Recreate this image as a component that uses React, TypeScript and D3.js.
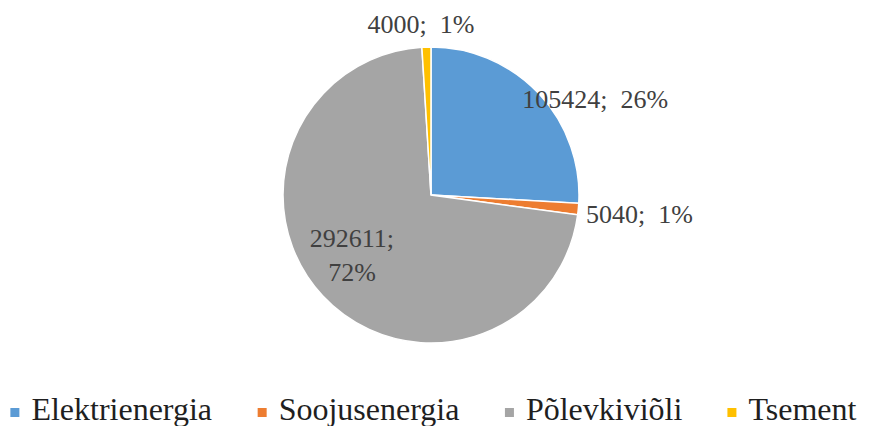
import React from 'react';
import * as d3 from 'd3';

const categories = ['Elektrienergia', 'Soojusenergia', 'Põlevkiviõli', 'Tsement'];
const values = [105424, 5040, 292611, 4000];
const percents = ['26%', '1%', '72%', '1%'];
const colors = ['#5B9BD5', '#ED7D31', '#A5A5A5', '#FFC000'];

// label placement: radius factor, anchor, nudge, split onto two lines
const labelPlace = [
  { k: 0.95, anchor: 'start', dx: -11, dy: 10, split: false },
  { k: 1.1, anchor: 'start', dx: -7, dy: 13, split: false },
  { k: 0.6, anchor: 'middle', dx: -14, dy: -8, split: true },
  { k: 1.1, anchor: 'middle', dx: -5, dy: 1, split: false },
];

const serif = "'Liberation Serif'";

const width = 869;
const height = 426;
const cx = 431;
const cy = 195;
const radius = 148;

// Times-metric widths (em) for legend layout
const legendEm = [5.665, 5.665, 4.89, 3.444];

const App = () => {
  const data = categories.map((c, i) => ({ name: c, value: values[i], pct: percents[i], i }));
  const arcs = d3.pie<any>().sort(null).value((d) => d.value)(data);
  const arc = d3.arc<any>().innerRadius(0).outerRadius(radius);

  const legendFont = 32;
  const textW = legendEm.map((e) => e * legendFont);
  const swatchGap = 21;
  const gap = 45;
  const total = d3.sum(textW) + swatchGap * categories.length + gap * (categories.length - 1);
  const starts: number[] = [];
  let x0 = (width - total) / 2;
  textW.forEach((w) => {
    starts.push(x0);
    x0 += swatchGap + w + gap;
  });

  return (
    <svg width={width} height={height} style={{ position: 'absolute', left: 0, top: 0, background: '#fff' }}>
      <g transform={`translate(${cx},${cy})`}>
        {arcs.map((a) => (
          <path key={a.data.name} d={arc(a) || ''} fill={colors[a.data.i]} stroke="#fff" strokeWidth={1.5} />
        ))}
      </g>
      {arcs.map((a) => {
        const p = labelPlace[a.data.i];
        const mid = (a.startAngle + a.endAngle) / 2;
        const r = radius * p.k;
        const x = cx + Math.sin(mid) * r + p.dx;
        const y = cy - Math.cos(mid) * r + p.dy;
        return (
          <text
            key={a.data.name}
            x={x}
            y={y}
            textAnchor={p.anchor}
            fill="#404040"
            fontFamily="Liberation Serif"
            style={{ fontFamily: serif, fontSize: 26, whiteSpace: 'pre' }}
          >
            {p.split ? (
              <>
                <tspan x={x} y={y}>{`${a.data.value};`}</tspan>
                <tspan x={x} y={y + 34}>{a.data.pct}</tspan>
              </>
            ) : (
              `${a.data.value};  ${a.data.pct}`
            )}
          </text>
        );
      })}
      {categories.map((c, i) => (
        <g key={c}>
          <rect x={starts[i]} y={height - 18} width={9} height={9} fill={colors[i]} />
          <text
            x={starts[i] + swatchGap}
            y={height - 6}
            fill="#1f1f1f"
            fontFamily="Liberation Serif"
            style={{ fontFamily: serif, fontSize: legendFont }}
          >
            {c}
          </text>
        </g>
      ))}
    </svg>
  );
};

export default App;
